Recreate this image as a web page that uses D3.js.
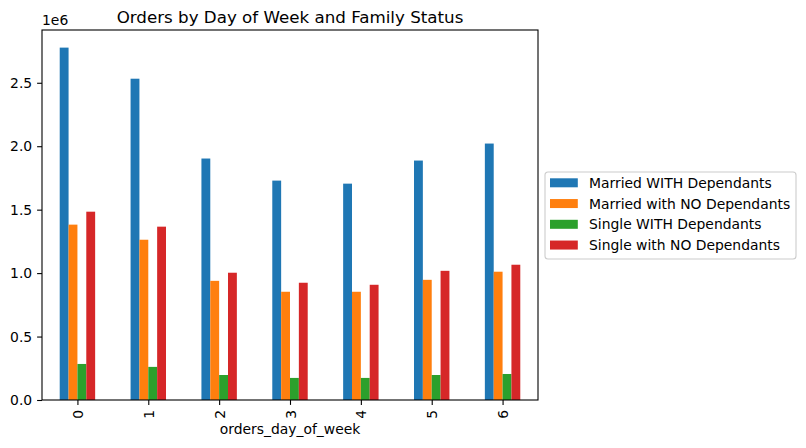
<!DOCTYPE html>
<html lang="en">
<head>
<meta charset="utf-8">
<title>Orders by Day of Week and Family Status</title>
<script src="https://cdn.jsdelivr.net/npm/d3@7"></script>
<style>
  html, body { margin: 0; padding: 0; background: #fff; }
  svg { display: block; font-family: "DejaVu Sans", sans-serif; }
</style>
</head>
<body>
<script>
// data
var days = ["0", "1", "2", "3", "4", "5", "6"];
var seriesNames = ["Married WITH Dependants", "Married with NO Dependants",
                   "Single WITH Dependants", "Single with NO Dependants"];
var colors = ["#1f77b4", "#ff7f0e", "#2ca02c", "#d62728"];

var marriedWith   = [2777000, 2532000, 1903000, 1729000, 1705000, 1887000, 2021000];
var marriedNo     = [1382000, 1263000,  939000,  853000,  853000,  947000, 1011000];
var singleWith    = [ 284000,  261000,  197000,  174000,  174000,  197000,  205000];
var singleNo      = [1484000, 1366000, 1003000,  924000,  908000, 1018000, 1066000];
var yTicks = [0, 0.5e6, 1.0e6, 1.5e6, 2.0e6, 2.5e6];

var allSeries = [marriedWith, marriedNo, singleWith, singleNo];

var W = 806, H = 448;
var plotL = 42, plotR = 538, plotT = 30, plotB = 400;
var fs = 13.9;   // 10pt at 100dpi

var svg = d3.select("body").append("svg")
    .attr("width", W)
    .attr("height", H);

// x in category units like pandas: 0..6, limits -0.5..6.5
var x = d3.scaleLinear().domain([-0.5, days.length - 0.5]).range([plotL, plotR]);
var yMax = d3.max(allSeries, function(s){ return d3.max(s); }) * 1.05;
var y = d3.scaleLinear().domain([0, yMax]).range([plotB, plotT]);

var barW = 0.5 / allSeries.length;

allSeries.forEach(function(vals, si){
  svg.append("g").selectAll("rect")
    .data(vals)
    .enter().append("rect")
      .attr("x", function(d, i){ return x(i - 0.25 + si * barW); })
      .attr("width", function(){ return x(barW) - x(0); })
      .attr("y", function(d){ return y(d); })
      .attr("height", function(d){ return y(0) - y(d); })
      .attr("fill", colors[si]);
});

// y axis
var yAxis = d3.axisLeft(y)
    .tickValues(yTicks)
    .tickSize(4.9)
    .tickPadding(4.9)
    .tickFormat(function(d){ return (d / 1e6).toFixed(1); });
var gy = svg.append("g").attr("transform", "translate(" + plotL + ",0)").call(yAxis);
gy.select(".domain").remove();

// x axis
var xAxis = d3.axisBottom(x)
    .tickValues(d3.range(days.length))
    .tickSize(4.9)
    .tickFormat(function(d){ return days[d]; });
var gx = svg.append("g").attr("transform", "translate(0," + plotB + ")").call(xAxis);
gx.select(".domain").remove();
gx.selectAll("text")
    .attr("transform", "rotate(-90)")
    .attr("x", -9.8)
    .attr("y", 5)
    .attr("dy", "0")
    .style("text-anchor", "end");

svg.selectAll(".tick text").attr("font-size", fs).attr("fill", "#000")
    .attr("font-family", "DejaVu Sans");
svg.selectAll(".tick line").attr("stroke", "#000").attr("stroke-width", 1.1);

// frame
svg.append("rect")
    .attr("x", plotL).attr("y", plotT)
    .attr("width", plotR - plotL).attr("height", plotB - plotT)
    .attr("fill", "none").attr("stroke", "#000").attr("stroke-width", 1.1);

// offset text, title, x label
svg.append("text").attr("x", plotL).attr("y", 25)
    .attr("font-size", fs).text("1e6");
svg.append("text").attr("x", (plotL + plotR) / 2).attr("y", 22.5)
    .attr("text-anchor", "middle").attr("font-size", 16.7)
    .text("Orders by Day of Week and Family Status");
svg.append("text").attr("x", (plotL + plotR) / 2).attr("y", 433.5)
    .attr("text-anchor", "middle").attr("font-size", fs)
    .text("orders_day_of_week");

// legend
var lg = svg.append("g").attr("transform", "translate(545,172)");
lg.append("rect")
    .attr("width", 251).attr("height", 87)
    .attr("rx", 3)
    .attr("fill", "#fff").attr("stroke", "#cccccc").attr("stroke-width", 1.1);
var items = lg.selectAll("g.item").data(seriesNames)
  .enter().append("g")
    .attr("transform", function(d, i){ return "translate(0," + (10.8 + i * 20.75) + ")"; });
items.append("rect")
    .attr("x", 5).attr("y", -4.5).attr("width", 27.8).attr("height", 9)
    .attr("fill", function(d, i){ return colors[i]; });
items.append("text")
    .attr("x", 44).attr("y", 5)
    .attr("font-size", fs)
    .text(function(d){ return d; });
</script>
</body>
</html>
